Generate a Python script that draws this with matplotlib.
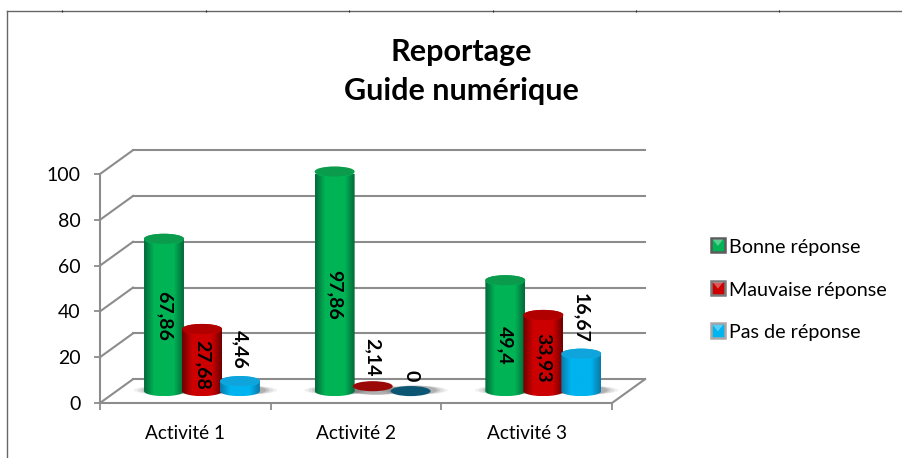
import numpy as np
import matplotlib
matplotlib.use("Agg")
import matplotlib.pyplot as plt
from matplotlib.colors import LinearSegmentedColormap
from matplotlib.patches import Ellipse, PathPatch, Polygon, Rectangle
from matplotlib.path import Path
from matplotlib.legend_handler import HandlerBase

plt.rcParams['font.family'] = ['Lato', 'DejaVu Sans']

# ===== data =====
categories = ["Activité 1", "Activité 2", "Activité 3"]
series_names = ["Bonne réponse", "Mauvaise réponse", "Pas de réponse"]
bonne = [67.86, 97.86, 49.4]
mauvaise = [27.68, 2.14, 33.93]
pas_de = [4.46, 0, 16.67]
bonne_txt = ["67,86", "97,86", "49,4"]
mauvaise_txt = ["27,68", "2,14", "33,93"]
pas_de_txt = ["4,46", "0", "16,67"]

# label heights on the value scale, Excel placed them by hand
bonne_lab_y = [38, 47, 25]
mauvaise_lab_y = [16.6, 20, 19.6]
pas_de_lab_y = [23.6, 12, 37]

# ===== styles =====
GRID = "#8c8c8c"
EDGE = {0: "#04683a", 1: "#6e0000", 2: "#0a78a8"}
MID = {0: "#00b455", 1: "#cc0000", 2: "#00b4f0"}
TOP = {0: "#0a9c4c", 1: "#b00000", 2: "#10a4dc"}
FLAT = {0: "#0a9c4c", 1: "#9a0808", 2: "#0c5674"}
SWATCH_EDGE = ["#5c5c5c", "#7a7a7a", "#a8a8a8"]

# ===== layout (fractions of a category / value units) =====
DX = 33 / 170.67      # depth of the box, in categories
DY = 10.4             # depth of the box, in value units
BAR_HW = 0.117
ELL_HH = 2.2
BASE = 5.2
BAR_SCALE = 0.98
OFFS = [0.375, 0.598, 0.82]

fig = plt.figure(figsize=(9.02, 4.58), dpi=100)
ax = fig.add_axes([100 / 902, 1 - 403 / 458, 512 / 902, 229 / 458])
ax.set_xlim(0, 3)
ax.set_ylim(0, 100)
for s in ["top", "right"]:
    ax.spines[s].set_visible(False)
for s in ["left", "bottom"]:
    ax.spines[s].set_color(GRID)
    ax.spines[s].set_linewidth(1.5)

ax.set_yticks(np.arange(0, 101, 20))
ax.tick_params(axis="y", length=4, width=1.3, color=GRID, labelsize=14, pad=10)
ax.set_xticks([0.5, 1.5, 2.5], categories)
ax.tick_params(axis="x", which="major", length=0, labelsize=13.7, pad=16)
ax.set_xticks([0, 1, 2, 3], minor=True)
ax.tick_params(axis="x", which="minor", length=5, width=1.3, color=GRID)

# walls and floor
for v in np.arange(0, 101, 20):
    ax.plot([DX, 3 + DX], [v + DY, v + DY], color=GRID, lw=1.5, clip_on=False, zorder=1)
    ax.plot([0, DX], [v, v + DY], color=GRID, lw=1.5, clip_on=False, zorder=1)
ax.plot([3, 3 + DX], [0, DY], color=GRID, lw=1.5, clip_on=False, zorder=1)


def cylinder(x, v, k):
    z = 3 + k
    y0 = BASE
    y1 = BASE + v * BAR_SCALE
    # soft shadow on the floor
    for grow, a in zip([1.7, 1.5, 1.3, 1.15], [0.08, 0.12, 0.16, 0.2]):
        ax.add_patch(Ellipse((x + 0.02, y0 + 0.4), 2 * BAR_HW * grow, 2 * ELL_HH * 0.9,
                             fc="#555555", ec="none", alpha=a, zorder=2, clip_on=False))
    if v >= 3:
        t = np.linspace(np.pi, 2 * np.pi, 60)
        low = np.column_stack([x + BAR_HW * np.cos(t), y0 + ELL_HH * np.sin(t)])
        t2 = np.linspace(0, np.pi, 60)
        up = np.column_stack([x + BAR_HW * np.cos(t2), y1 + ELL_HH * np.sin(t2)])
        path = Path(np.vstack([low, up, low[:1]]), closed=True)
        patch = PathPatch(path, transform=ax.transData, fc="none", ec="none")
        ax.add_patch(patch)
        cmap = LinearSegmentedColormap.from_list(
            "c", [EDGE[k], MID[k], MID[k], MID[k], EDGE[k]])
        grad = np.linspace(0, 1, 128).reshape(1, -1)
        im = ax.imshow(grad, cmap=cmap, aspect="auto", zorder=z,
                       extent=[x - BAR_HW, x + BAR_HW, y0 - ELL_HH, y1 + ELL_HH])
        im.set_clip_path(patch)
        # light rim, then the lid
        ax.add_patch(Ellipse((x, y1 - 0.4), 2 * BAR_HW * 0.98, 2 * ELL_HH, fc=MID[k], ec="none",
                             zorder=z + 0.1, alpha=0.8, clip_on=False))
        ax.add_patch(Ellipse((x, y1), 2 * BAR_HW, 2 * ELL_HH, fc=TOP[k], ec="none", zorder=z + 0.2,
                             clip_on=False))
    else:
        ax.add_patch(Ellipse((x, y0 + v), 2 * BAR_HW, 2 * ELL_HH, fc=FLAT[k], ec="none",
                             zorder=z + 0.2))


all_vals = [bonne, mauvaise, pas_de]
all_txt = [bonne_txt, mauvaise_txt, pas_de_txt]
all_lab = [bonne_lab_y, mauvaise_lab_y, pas_de_lab_y]
for k in range(3):
    for i in range(3):
        x = i + OFFS[k]
        cylinder(x, all_vals[k][i], k)
        ax.text(x, all_lab[k][i], all_txt[k][i], rotation=270, ha="center", va="center",
                fontsize=14, fontweight="bold", color="black", zorder=10)

ax.set_xlim(0, 3)
ax.set_ylim(0, 100)


class SwatchHandler(HandlerBase):
    def create_artists(self, legend, orig, xd, yd, w, h, fs, trans):
        face = orig.get_facecolor()
        box = Rectangle((xd, yd), w, h, fc=face, ec=orig.get_edgecolor(), lw=1.8, transform=trans)
        tri = Polygon([(xd + 0.15 * w, yd + h * 0.9), (xd + 0.85 * w, yd + h * 0.9), (xd + 0.5 * w, yd + h * 0.45)],
                      fc="white", ec="none", alpha=0.35, transform=trans)
        return [box, tri]


handles = [Rectangle((0, 0), 1, 1, fc=MID[k], ec=SWATCH_EDGE[k]) for k in range(3)]
fig.legend(handles, series_names, loc="center left", bbox_to_anchor=(710.5 / 902, 1 - 290 / 458),
           frameon=False, fontsize=14.2, handler_map={Rectangle: SwatchHandler()},
           handlelength=0.75, handleheight=0.75, handletextpad=0.2, labelspacing=1.3,
           borderpad=0, borderaxespad=0)

fig.text(461 / 902, 1 - 52 / 458, "Reportage", ha="center", va="center", fontsize=22, fontweight="bold")
fig.text(461 / 902, 1 - 91 / 458, "Guide numérique", ha="center", va="center", fontsize=22, fontweight="bold")

# sheet border behind the chart, with the cell marks on it
fig.add_artist(plt.Line2D([7.5 / 902, 7.5 / 902], [0, 1 - 11 / 458], color="#666666", lw=1))
fig.add_artist(plt.Line2D([7.5 / 902, 1], [1 - 11 / 458, 1 - 11 / 458], color="#666666", lw=1))
for px in [62, 205.5, 349, 492.5, 636, 779]:
    fig.add_artist(plt.Line2D([px / 902, px / 902], [1 - 12 / 458, 1 - 10 / 458], color="#222222", lw=0.8,
                              solid_capstyle="butt"))

fig.savefig("out.png", dpi=100)
